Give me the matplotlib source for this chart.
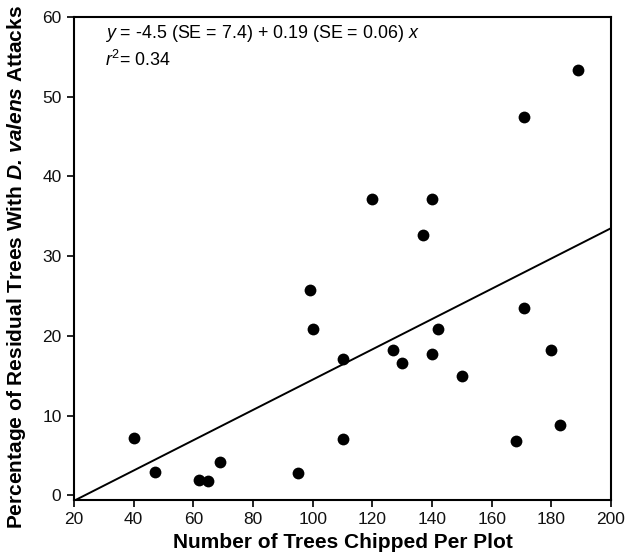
import matplotlib
matplotlib.use("Agg")
import matplotlib.pyplot as plt
import numpy as np

plt.rcParams['font.family'] = ['Liberation Sans', 'DejaVu Sans']
plt.rcParams['mathtext.fontset'] = 'custom'
plt.rcParams['mathtext.rm'] = 'Liberation Sans'
plt.rcParams['mathtext.it'] = 'Liberation Sans:italic'
plt.rcParams['mathtext.bf'] = 'Liberation Sans:bold'
plt.rcParams['mathtext.bfit'] = 'Liberation Sans:bold:italic'

# Data
trees_chipped = [40, 47, 62, 65, 69, 95, 99, 100, 110, 110, 120, 127, 130, 137,
                 140, 140, 142, 150, 168, 171, 171, 180, 183, 189]
pct_attacked = [7.2, 2.9, 1.9, 1.8, 4.2, 2.8, 25.7, 20.9, 17.1, 7.1, 37.2, 18.2, 16.6, 32.7,
                37.2, 17.7, 20.9, 14.9, 6.8, 47.4, 23.5, 18.2, 8.8, 53.3]
intercept = -4.5
slope = 0.19
x_ticks = [20, 40, 60, 80, 100, 120, 140, 160, 180, 200]
y_ticks = [0, 10, 20, 30, 40, 50, 60]

fig = plt.figure(figsize=(6.28, 5.57), dpi=100)
ax = fig.add_axes([74/628, 57/557, (611-74)/628, (500-17)/557])

ax.scatter(trees_chipped, pct_attacked, s=8.5**2, color='black', zorder=3, linewidths=0)
xl = np.array([20, 200])
ax.plot(xl, intercept + slope * xl, color='black', lw=1.4, zorder=2)

ax.set_xlim(20, 200)
ax.set_ylim(-0.6, 60)
ax.set_xticks(x_ticks)
ax.set_yticks(y_ticks)
ax.tick_params(direction='out', length=5, width=1.3, labelsize=12.5, pad=4, colors='#111111')
for s in ax.spines.values():
    s.set_linewidth(1.5)

ax.set_xlabel('Number of Trees Chipped Per Plot', fontsize=15, fontweight='bold')
ax.set_ylabel(r'Percentage of Residual Trees With $\mathbfit{D.\ \!valens}$ Attacks',
              fontsize=15, fontweight='bold')
ax.xaxis.set_label_coords(0.5, -0.068)
ax.yaxis.set_label_coords(-0.086, 0.482)

ax.text(0.0577, 0.9565, r'$y$ = -4.5 (SE = 7.4) + 0.19 (SE = 0.06) $x$', transform=ax.transAxes,
        fontsize=12.9, va='baseline', ha='left')
ax.text(0.0577, 0.899, r'$r^2$= 0.34', transform=ax.transAxes,
        fontsize=12.9, va='baseline', ha='left')

fig.savefig('out.png', dpi=100)
